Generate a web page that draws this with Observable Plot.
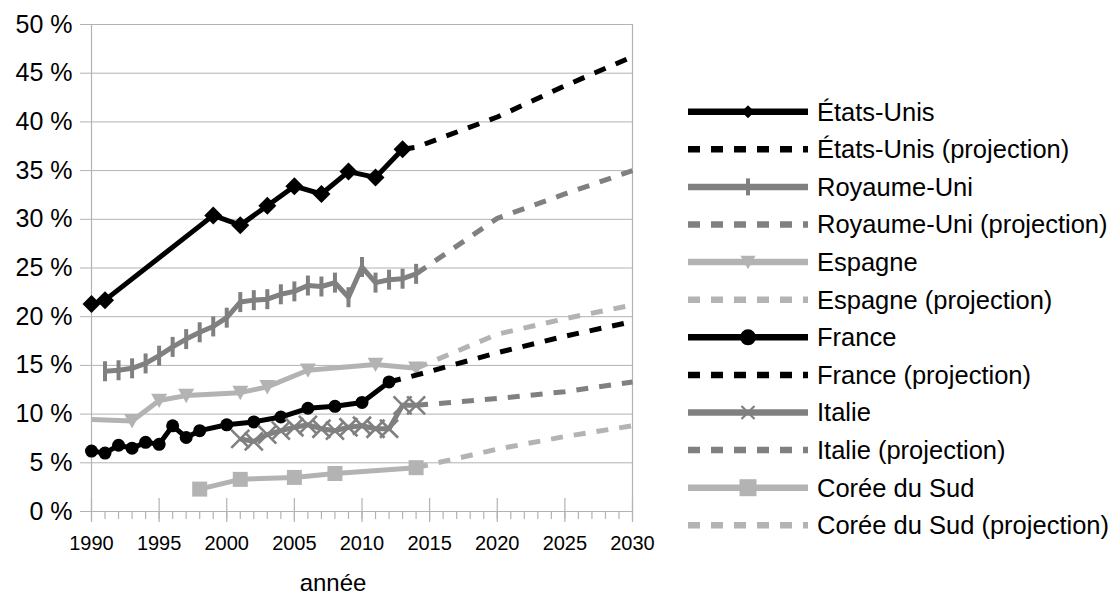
<!DOCTYPE html>
<html>
<head>
<meta charset="utf-8">
<script src="https://cdn.jsdelivr.net/npm/d3@7"></script>
<script src="https://cdn.jsdelivr.net/npm/@observablehq/plot@0.6"></script>
<style>
  html, body { margin: 0; padding: 0; background: #ffffff; }
  #chart svg { display: block; }
</style>
</head>
<body>
<div id="chart"></div>
<script>
// ---------- data ----------
const usYears = [1990, 1991, 1999, 2001, 2003, 2005, 2007, 2009, 2011, 2013];
const usValues = [21.3, 21.7, 30.4, 29.4, 31.4, 33.4, 32.6, 34.9, 34.3, 37.2];
const usProjYears = [2013, 2014, 2020, 2025, 2030];
const usProjValues = [37.2, 37.4, 40.5, 43.7, 46.7];

const ukYears = [1991, 1992, 1993, 1994, 1995, 1996, 1997, 1998, 1999, 2000, 2001, 2002,
                 2003, 2004, 2005, 2006, 2007, 2008, 2009, 2010, 2011, 2012, 2013, 2014];
const ukValues = [14.4, 14.5, 14.7, 15.2, 16.0, 16.9, 17.7, 18.4, 19.0, 19.9, 21.5, 21.7,
                  21.8, 22.3, 22.6, 23.2, 23.1, 23.5, 22.0, 25.1, 23.5, 23.8, 23.9, 24.4];
const ukProjYears = [2014, 2020, 2025, 2030];
const ukProjValues = [24.4, 30.1, 32.6, 35.0];

const esYears = [1990, 1993, 1995, 1997, 2001, 2003, 2006, 2011, 2014];
const esValues = [9.45, 9.3, 11.4, 11.9, 12.2, 12.8, 14.5, 15.1, 14.7];
const esProjYears = [2014, 2020, 2025, 2030];
const esProjValues = [14.7, 18.2, 19.8, 21.2];

const frYears = [1990, 1991, 1992, 1993, 1994, 1995, 1996, 1997, 1998, 2000, 2002, 2004, 2006, 2008, 2010, 2012];
const frValues = [6.2, 6.0, 6.8, 6.5, 7.1, 6.9, 8.8, 7.6, 8.3, 8.9, 9.2, 9.7, 10.6, 10.8, 11.2, 13.3];
const frProjYears = [2012, 2014, 2020, 2025, 2030];
const frProjValues = [13.3, 14.0, 16.3, 18.0, 19.5];

const itYears = [2001, 2002, 2003, 2004, 2005, 2006, 2007, 2008, 2009, 2010, 2011, 2012, 2013, 2014];
const itValues = [7.45, 7.2, 7.9, 8.3, 8.65, 8.9, 8.5, 8.3, 8.65, 8.8, 8.5, 8.5, 10.9, 10.9];
const itProjYears = [2014, 2020, 2025, 2030];
const itProjValues = [10.9, 11.6, 12.3, 13.3];

const krYears = [1998, 2001, 2005, 2008, 2014];
const krValues = [2.3, 3.3, 3.5, 3.9, 4.5];
const krProjYears = [2014, 2020, 2025, 2030];
const krProjValues = [4.5, 6.4, 7.7, 8.8];

const seriesNames = ["États-Unis", "Royaume-Uni", "Espagne", "France", "Italie", "Corée du Sud"];
const projSuffix = " (projection)";
const yTicks = [0, 5, 10, 15, 20, 25, 30, 35, 40, 45, 50];
const majorYears = [1990, 1995, 2000, 2005, 2010, 2015, 2020, 2025, 2030];
const minorYears = d3.range(1990, 2031);
const xTitle = "année";

// ---------- styles ----------
const BLACK = "#000000", DARK = "#808080", LIGHT = "#b3b3b3", GRID = "#b3b3b3";
const FONT = "'Liberation Sans', Arial, sans-serif";

// custom symbols
const diamondSym = { draw(ctx, size) { const r = Math.sqrt(size / Math.PI);
  ctx.moveTo(0, -r); ctx.lineTo(r, 0); ctx.lineTo(0, r); ctx.lineTo(-r, 0); ctx.closePath(); } };
const barSym = { draw(ctx, size) { const r = Math.sqrt(size / Math.PI);
  ctx.moveTo(0, -r); ctx.lineTo(0, r); } };
const crossSym = { draw(ctx, size) { const r = Math.sqrt(size / Math.PI);
  ctx.moveTo(-r, -r); ctx.lineTo(r, r); ctx.moveTo(r, -r); ctx.lineTo(-r, r); } };
const squareSym = { draw(ctx, size) { const r = Math.sqrt(size / Math.PI);
  ctx.rect(-r, -r, 2 * r, 2 * r); } };
const triDownSym = { draw(ctx, size) { const r = Math.sqrt(size / Math.PI);
  ctx.moveTo(-r, -r * 0.85); ctx.lineTo(r, -r * 0.85); ctx.lineTo(0, r * 0.95); ctx.closePath(); } };

const rows = (years, values) => years.map((x, i) => ({x, y: values[i]}));

const series = [
  {name: seriesNames[0], data: rows(usYears, usValues), proj: rows(usProjYears, usProjValues), color: BLACK,
   dot: {symbol: diamondSym, r: 9, fill: BLACK}, leg: {symbol: diamondSym, r: 6.5, fill: BLACK}},
  {name: seriesNames[1], data: rows(ukYears, ukValues), proj: rows(ukProjYears, ukProjValues), color: DARK,
   dot: {symbol: barSym, r: 10, fill: "none", stroke: DARK, strokeWidth: 4}, leg: {symbol: barSym, r: 8.5, fill: "none", stroke: DARK, strokeWidth: 4}},
  {name: seriesNames[2], data: rows(esYears, esValues), proj: rows(esProjYears, esProjValues), color: LIGHT,
   dot: {symbol: triDownSym, r: 8, fill: LIGHT, filter: d => d.x > esYears[0]}, leg: {symbol: triDownSym, r: 7.5, fill: LIGHT}},
  {name: seriesNames[3], data: rows(frYears, frValues), proj: rows(frProjYears, frProjValues), color: BLACK,
   dot: {symbol: "circle", r: 6.5, fill: BLACK}, leg: {symbol: "circle", r: 8, fill: BLACK}},
  {name: seriesNames[4], data: rows(itYears, itValues), proj: rows(itProjYears, itProjValues), color: DARK,
   dot: {symbol: crossSym, r: 9, fill: "none", stroke: DARK, strokeWidth: 2.6}, leg: {symbol: crossSym, r: 6.5, fill: "none", stroke: DARK, strokeWidth: 2.2}},
  {name: seriesNames[5], data: rows(krYears, krValues), proj: rows(krProjYears, krProjValues), color: LIGHT,
   dot: {symbol: squareSym, r: 7.5, fill: LIGHT}, leg: {symbol: squareSym, r: 8.5, fill: LIGHT}}
];

const LW = 5;
const DASH = "12,11";

const marks = [
  Plot.gridY({ticks: yTicks, stroke: GRID, strokeOpacity: 1, strokeWidth: 1}),
  Plot.ruleX([1990, 2030], {stroke: GRID, strokeWidth: 1.2}),
  Plot.ruleX(majorYears, {stroke: GRID, strokeWidth: 1.2, insetTop: 474, insetBottom: -11}),
  Plot.ruleX(minorYears, {stroke: GRID, strokeWidth: 1.2, insetTop: 487, insetBottom: -8}),
  Plot.axisY({ticks: yTicks, tickSize: 11, tickPadding: 8, tickFormat: d => d + " %", fontSize: 25,
              stroke: GRID, fill: BLACK, label: null}),
  Plot.axisX({ticks: majorYears, tickSize: 0, tickPadding: 24, tickFormat: d => String(d), fontSize: 20,
              fill: BLACK, label: null})
];

for (const s of series) {
  marks.push(Plot.line(s.data, {x: "x", y: "y", stroke: s.color, strokeWidth: LW, strokeLinejoin: "round", strokeLinecap: "butt"}));
  marks.push(Plot.line(s.proj, {x: "x", y: "y", stroke: s.color, strokeWidth: LW, strokeDasharray: DASH, strokeLinecap: "butt"}));
  marks.push(Plot.dot(s.data, {x: "x", y: "y", ...s.dot}));
}

const chart = Plot.plot({
  width: 1112,
  height: 597,
  marginLeft: 91,
  marginRight: 480,
  marginTop: 24,
  marginBottom: 86,
  x: {domain: [1990, 2030]},
  y: {domain: [0, 50]},
  style: {fontFamily: FONT, background: "#ffffff", color: BLACK, overflow: "visible"},
  marks
});

document.getElementById("chart").appendChild(chart);

// ---------- axis title & legend ----------
const svg = d3.select(chart);
svg.append("text")
  .attr("x", 333).attr("y", 591)
  .attr("text-anchor", "middle")
  .style("font-family", FONT).style("font-size", "24px").attr("fill", BLACK)
  .text(xTitle);

const leg = svg.append("g").attr("text-anchor", "start");
const legItems = [];
for (const s of series) {
  legItems.push({label: s.name, color: s.color, dash: null, marker: s.leg});
  legItems.push({label: s.name + projSuffix, color: s.color, dash: DASH, marker: null});
}
legItems.forEach((it, i) => {
  const cy = 111.7 + i * 37.6;
  const g = leg.append("g");
  g.append("line").attr("x1", 688).attr("x2", 808).attr("y1", cy).attr("y2", cy)
    .attr("stroke", it.color).attr("stroke-width", 6.5)
    .attr("stroke-dasharray", it.dash).attr("stroke-linecap", "butt");
  if (it.marker) {
    const m = it.marker;
    const type = m.symbol === "circle" ? d3.symbolCircle : m.symbol;
    g.append("path")
      .attr("transform", `translate(748,${cy})`)
      .attr("d", d3.symbol(type, Math.PI * m.r * m.r)())
      .attr("fill", m.fill)
      .attr("stroke", m.stroke || "none")
      .attr("stroke-width", m.strokeWidth || 0);
  }
  g.append("text").attr("x", 817).attr("y", cy).attr("dy", "0.35em")
    .attr("text-anchor", "start")
    .style("font-family", FONT).style("font-size", "25.5px").attr("fill", BLACK)
    .text(it.label);
});
</script>
</body>
</html>
